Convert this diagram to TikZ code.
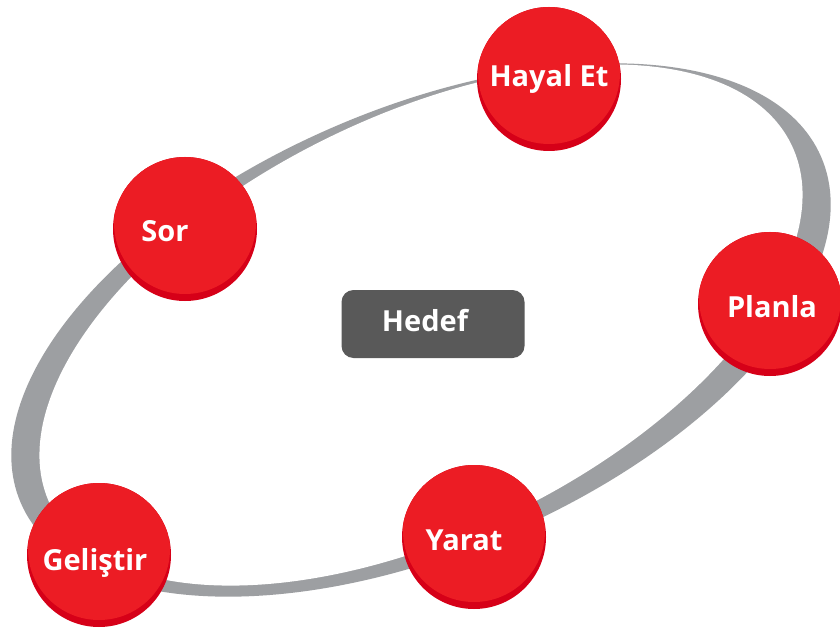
\documentclass[tikz,border=0pt]{standalone}
\usepackage{fontspec}
\setmainfont{Open Sans}
\definecolor{ringgray}{RGB}{157,159,162}
\definecolor{redmain}{RGB}{236,28,36}
\definecolor{reddark}{RGB}{214,0,24}
\definecolor{boxgray}{RGB}{89,89,89}
\begin{document}
\begin{tikzpicture}[x=1pt,y=-1pt,
  bubble/.style={circle, inner sep=0pt, minimum size=144pt, fill=reddark,
    path picture={\fill[redmain] ([yshift=6pt]path picture bounding box.center) circle (71pt);}},
  lbl/.style={anchor=base, text=white, inner sep=0pt, font=\fontsize{29}{34}\selectfont\bfseries},
  goalbox/.style={rectangle, rounded corners=12pt, fill=boxgray, minimum width=183pt, minimum height=68pt, inner sep=0pt}]
\useasboundingbox (0,0) rectangle (840,628);
\fill[white] (0,0) rectangle (840,628);
% ring
\fill[ringgray, shift={(421,330)}, rotate=23.4] (0,0) ellipse [x radius=436pt, y radius=221pt];
\fill[white, shift={(421,325)}, rotate=26] (0,0) ellipse [x radius=412pt, y radius=209pt];
% centre
\node[goalbox] (hedef) at (433,324) {};
\node[lbl] (thedef) at (425,331) {Hedef};
% bubbles
\node[bubble] (hayal) at (549,79) {};
\node[lbl] (thayal) at (549,87) {Hayal Et};
\node[bubble] (sor) at (185,229) {};
\node[lbl] (tsor) at (165,242) {Sor};
\node[bubble] (planla) at (770,304) {};
\node[lbl] (tplanla) at (772,317) {Planla};
\node[bubble] (yarat) at (474,537) {};
\node[lbl] (tyarat) at (464,550) {Yarat};
\node[bubble] (gelistir) at (99,555) {};
\node[lbl] (tgelistir) at (95,570) {Geliştir};
\end{tikzpicture}
\end{document}
